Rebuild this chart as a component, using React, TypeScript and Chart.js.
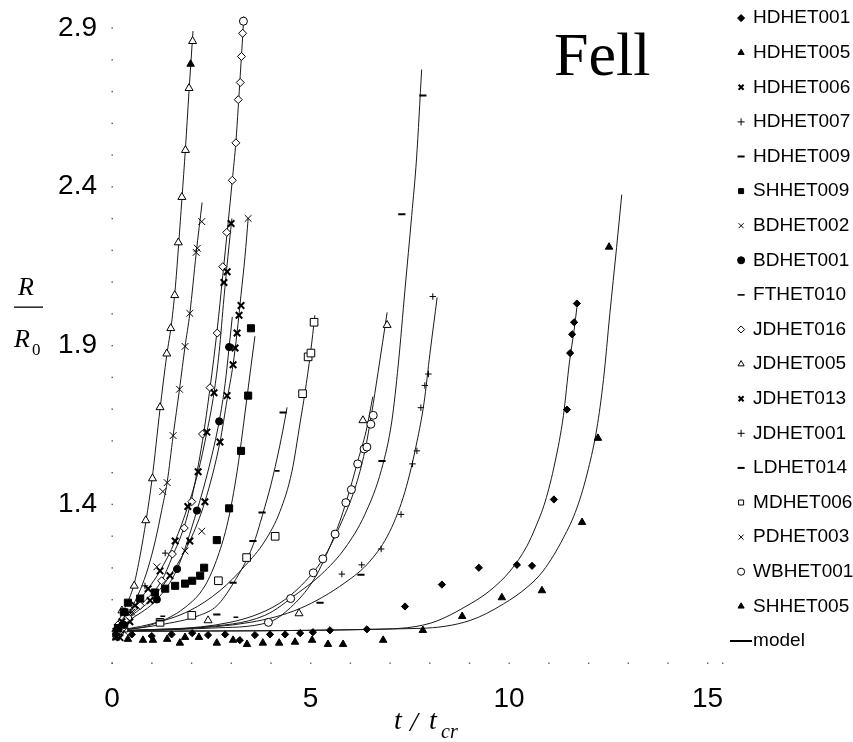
import React, { useEffect, useRef } from 'react';
import { Chart, registerables } from 'chart.js';

Chart.register(...registerables);

const SANS = "'Liberation Sans', Arial, sans-serif";
const SERIF = "'Liberation Serif', 'DejaVu Serif', serif";

// ---------- axes ----------
const xTickValues = [0, 5, 10, 15];
const yTickValues = [1.4, 1.9, 2.4, 2.9];
const xMin = 0;
const xMax = 15.39;
const yMin = 0.9;
const yMax = 2.967;

// ---------- measured series [t/tcr, R/R0] ----------
const hdhet001 = [[0.1, 0.99], [0.5, 0.99], [1.0, 0.985], [1.5, 0.99], [2.02, 0.994], [2.42, 0.988], [2.85, 0.99], [3.22, 0.972], [3.6, 0.988], [3.98, 0.99], [4.36, 0.99], [4.74, 0.994], [5.06, 0.997], [5.49, 1.003], [6.42, 1.006], [7.38, 1.078], [8.31, 1.147], [9.24, 1.2], [10.2, 1.209], [10.58, 1.206], [11.13, 1.415], [11.46, 1.698], [11.54, 1.876], [11.59, 1.935], [11.64, 1.973], [11.71, 2.032]];
const hdhet005 = [[3.8, 0.963], [4.21, 0.963], [4.61, 0.966], [5.04, 0.972], [5.44, 0.959], [5.82, 0.959], [6.83, 0.972], [7.83, 1.003], [8.82, 1.047], [9.82, 1.106], [10.83, 1.128], [11.84, 1.343], [12.24, 1.608], [12.52, 2.21]];
const hdhet006 = [[0.1, 1.0], [0.25, 1.03], [0.58, 1.081], [0.91, 1.134], [1.21, 1.19], [1.59, 1.284], [1.91, 1.393], [2.17, 1.502], [2.39, 1.627], [2.57, 1.751], [2.82, 2.098], [2.9, 2.132], [3.0, 2.284]];
const hdhet007 = [[0.2, 0.99], [0.4, 1.059], [0.83, 1.143], [1.34, 1.246]];
const hdhet009 = [[5.24, 1.09], [6.27, 1.178], [6.8, 1.536], [7.3, 2.313], [7.83, 2.687]];
const shhet009 = [[0.15, 1.01], [0.3, 1.06], [0.4, 1.09], [0.71, 1.103], [1.08, 1.122], [1.34, 1.134], [1.59, 1.143], [1.84, 1.15], [2.02, 1.159], [2.22, 1.175], [2.32, 1.2], [2.64, 1.287], [2.95, 1.387], [3.25, 1.568], [3.43, 1.742], [3.5, 1.954]];
const bdhet002 = [[0.1, 0.98], [0.3, 1.0], [0.45, 1.059], [1.13, 1.203], [1.84, 1.253], [2.26, 1.315], [3.43, 2.3]];
const bdhet001 = [[0.3, 1.02], [1.13, 1.1], [1.64, 1.196], [2.14, 1.38], [2.7, 1.661], [2.95, 1.895]];
const fthet010 = [[1.28, 1.047], [3.12, 1.044], [4.16, 1.505]];
const jdhet016 = [[0.08, 0.99], [0.15, 1.02], [0.33, 1.034], [0.71, 1.081], [1.25, 1.159], [1.52, 1.243], [1.82, 1.325], [2.01, 1.408], [2.28, 1.621], [2.47, 1.767], [2.65, 1.939], [2.79, 2.148], [2.89, 2.256], [3.03, 2.42], [3.12, 2.538], [3.18, 2.674], [3.23, 2.728], [3.26, 2.81], [3.29, 2.883]];
const jdhet005 = [[0.1, 0.99], [0.25, 1.065], [0.56, 1.143], [0.85, 1.349], [1.02, 1.481], [1.21, 1.705], [1.38, 1.874], [1.48, 1.954], [1.58, 2.058], [1.67, 2.224], [1.76, 2.367], [1.85, 2.515], [1.94, 2.71], [2.03, 2.858], [2.42, 1.034], [4.71, 1.056], [6.32, 1.664], [6.93, 1.964]];
const jdhet013 = [[0.2, 0.98], [0.45, 1.03], [0.96, 1.097], [1.46, 1.175], [1.96, 1.284], [2.34, 1.408], [2.72, 1.596], [2.9, 1.742], [3.05, 1.839], [3.1, 1.892], [3.15, 1.939], [3.2, 1.995], [3.25, 2.026]];
const jdhet001 = [[5.79, 1.18], [6.29, 1.209], [6.78, 1.259], [7.28, 1.368], [7.57, 1.527], [7.68, 1.568], [7.78, 1.704], [7.88, 1.774], [7.97, 1.81], [8.08, 2.054]];
const ldhet014 = [[1.21, 1.034], [2.64, 1.053], [3.05, 1.153], [3.55, 1.284], [3.78, 1.374], [4.31, 1.689]];
const mdhet006 = [[0.3, 1.01], [1.21, 1.028], [2.01, 1.05], [2.68, 1.159], [3.39, 1.232], [4.11, 1.299], [4.8, 1.748], [4.94, 1.864], [5.01, 1.876], [5.09, 1.973]];
const pdhet003 = [[0.15, 1.01], [0.5, 1.06], [1.28, 1.44], [1.39, 1.468], [1.54, 1.616], [1.7, 1.762], [1.84, 1.897], [1.96, 2.001], [2.12, 2.193], [2.15, 2.206], [2.26, 2.29]];
const wbhet001 = [[0.2, 1.0], [0.4, 1.04], [3.94, 1.028], [4.5, 1.103], [5.07, 1.184], [5.31, 1.228], [5.62, 1.306], [5.89, 1.405], [6.03, 1.446], [6.19, 1.527], [6.35, 1.574], [6.42, 1.58], [6.52, 1.652], [6.58, 1.68], [3.31, 2.921]];
const shhet005 = [[0.1, 0.98], [0.4, 0.975], [0.78, 0.972], [1.03, 0.972], [1.39, 0.975], [1.71, 0.963], [1.84, 0.981], [2.19, 0.981], [2.64, 0.963], [3.05, 0.972], [3.4, 0.959], [1.98, 2.786]];

// ---------- model curves [t/tcr, R/R0] ----------
const modelJDHET005 = [[0, 1], [0.15, 1.03], [0.33, 1.075], [0.55, 1.145], [0.71, 1.24], [0.86, 1.35], [1.01, 1.48], [1.21, 1.7], [1.38, 1.87], [1.5, 1.97], [1.6, 2.09], [1.68, 2.22], [1.76, 2.36], [1.85, 2.52], [1.94, 2.7], [2.04, 2.89]];
const modelPDHET003 = [[0, 1], [0.2, 1.025], [0.45, 1.065], [0.71, 1.13], [0.91, 1.2], [1.1, 1.29], [1.25, 1.38], [1.39, 1.47], [1.54, 1.616], [1.7, 1.762], [1.84, 1.897], [1.96, 2.0], [2.12, 2.19], [2.27, 2.35]];
const modelJDHET016 = [[0, 1], [0.33, 1.034], [0.71, 1.081], [1.25, 1.159], [1.52, 1.235], [1.82, 1.33], [2.01, 1.42], [2.28, 1.6], [2.47, 1.767], [2.65, 1.95], [2.79, 2.12], [2.92, 2.28], [3.03, 2.42], [3.12, 2.54], [3.18, 2.65], [3.23, 2.75], [3.28, 2.85], [3.32, 2.936]];
const modelHDHET006 = [[0, 1], [0.3, 1.04], [0.58, 1.081], [0.91, 1.134], [1.21, 1.19], [1.59, 1.284], [1.91, 1.393], [2.17, 1.502], [2.39, 1.627], [2.57, 1.751], [2.7, 1.88], [2.82, 2.05], [2.92, 2.18], [3.02, 2.3]];
const modelJDHET013 = [[0, 1], [0.5, 1.05], [0.96, 1.097], [1.46, 1.175], [1.96, 1.284], [2.34, 1.408], [2.72, 1.596], [2.9, 1.73], [3.05, 1.84], [3.15, 1.94], [3.25, 2.06], [3.35, 2.18], [3.43, 2.3]];
const modelBDHET001 = [[0, 1], [0.5, 1.04], [1.13, 1.1], [1.64, 1.196], [2.14, 1.38], [2.45, 1.52], [2.7, 1.661], [2.85, 1.78], [2.95, 1.895], [3.03, 1.99]];
const modelSHHET009 = [[0, 1], [0.96, 1.019], [1.84, 1.075], [2.34, 1.143], [2.67, 1.237], [2.92, 1.346], [3.15, 1.502], [3.32, 1.658], [3.48, 1.814], [3.6, 1.929]];
const modelLDHET014 = [[0, 1], [1.2, 1.02], [2.2, 1.05], [2.64, 1.08], [3.05, 1.15], [3.55, 1.27], [3.8, 1.37], [4.0, 1.46], [4.15, 1.54], [4.3, 1.63], [4.41, 1.705]];
const modelMDHET006 = [[0, 1], [0.96, 1.022], [1.96, 1.065], [2.72, 1.128], [3.35, 1.206], [3.85, 1.284], [4.23, 1.377], [4.53, 1.502], [4.74, 1.658], [4.86, 1.751], [5.0, 1.876], [5.11, 1.995]];
const modelWBHET001 = [[0, 1], [2.5, 1.01], [3.94, 1.028], [4.5, 1.075], [5.07, 1.16], [5.45, 1.255], [5.75, 1.35], [6.0, 1.45], [6.2, 1.54], [6.4, 1.63], [6.57, 1.739]];
const modelTriangleB = [[0, 1], [2.97, 1.028], [4.18, 1.085], [4.86, 1.156], [5.37, 1.239], [5.79, 1.346], [6.12, 1.45], [6.37, 1.568], [6.54, 1.686], [6.7, 1.814], [6.93, 2.004]];
const modelHDHET009 = [[0, 1], [2.22, 1.012], [3.85, 1.05], [4.69, 1.121], [5.28, 1.18], [5.87, 1.262], [6.37, 1.368], [6.79, 1.51], [7.05, 1.663], [7.21, 1.839], [7.38, 2.076], [7.55, 2.31], [7.67, 2.487], [7.8, 2.769]];
const modelJDHET001 = [[0, 1], [3.48, 1.028], [4.74, 1.072], [5.87, 1.153], [6.5, 1.221], [7.0, 1.315], [7.38, 1.44], [7.68, 1.596], [7.86, 1.72], [8.01, 1.876], [8.19, 2.051]];
const modelHDHET001 = [[0, 1], [6.5, 1.006], [8.01, 1.025], [9.02, 1.086], [9.52, 1.128], [10.03, 1.19], [10.45, 1.268], [10.66, 1.325], [10.91, 1.408], [11.16, 1.533], [11.37, 1.679], [11.52, 1.845], [11.64, 1.949], [11.71, 2.02]];
const modelHDHET005 = [[0, 1], [7.76, 1.009], [9.02, 1.034], [9.86, 1.086], [10.45, 1.138], [10.86, 1.19], [11.37, 1.294], [11.71, 1.388], [12.0, 1.512], [12.21, 1.637], [12.38, 1.793], [12.54, 2.0], [12.71, 2.209], [12.84, 2.375]];

type Marker = { pointStyle: string; r: number; bw: number; fill: boolean };
const DIAMOND_F: Marker = { pointStyle: 'rectRot', r: 3.6, bw: 1, fill: true };
const TRI_F: Marker = { pointStyle: 'triangle', r: 4.3, bw: 1, fill: true };
const BOLDX: Marker = { pointStyle: 'crossRot', r: 4.6, bw: 2, fill: false };
const THINX: Marker = { pointStyle: 'crossRot', r: 4.8, bw: 1, fill: false };
const PLUS: Marker = { pointStyle: 'cross', r: 3.2, bw: 1, fill: false };
const DASH: Marker = { pointStyle: 'line', r: 3.6, bw: 2, fill: false };
const SMALLDASH: Marker = { pointStyle: 'line', r: 2.4, bw: 1.6, fill: false };
const SQUARE_F: Marker = { pointStyle: 'rect', r: 5, bw: 1, fill: true };
const CIRCLE_F: Marker = { pointStyle: 'circle', r: 3.6, bw: 1, fill: true };
const DIAMOND_O: Marker = { pointStyle: 'rectRot', r: 4, bw: 1, fill: false };
const TRI_O: Marker = { pointStyle: 'triangle', r: 4.6, bw: 1, fill: false };
const SQUARE_O: Marker = { pointStyle: 'rect', r: 5.4, bw: 1, fill: false };
const CIRCLE_O: Marker = { pointStyle: 'circle', r: 4, bw: 1, fill: false };

const series: { label: string; data: number[][]; m: Marker }[] = [
  { label: 'HDHET001', data: hdhet001, m: DIAMOND_F },
  { label: 'HDHET005', data: hdhet005, m: TRI_F },
  { label: 'HDHET006', data: hdhet006, m: BOLDX },
  { label: 'HDHET007', data: hdhet007, m: PLUS },
  { label: 'HDHET009', data: hdhet009, m: DASH },
  { label: 'SHHET009', data: shhet009, m: SQUARE_F },
  { label: 'BDHET002', data: bdhet002, m: THINX },
  { label: 'BDHET001', data: bdhet001, m: CIRCLE_F },
  { label: 'FTHET010', data: fthet010, m: SMALLDASH },
  { label: 'JDHET016', data: jdhet016, m: DIAMOND_O },
  { label: 'JDHET005', data: jdhet005, m: TRI_O },
  { label: 'JDHET013', data: jdhet013, m: BOLDX },
  { label: 'JDHET001', data: jdhet001, m: PLUS },
  { label: 'LDHET014', data: ldhet014, m: DASH },
  { label: 'MDHET006', data: mdhet006, m: SQUARE_O },
  { label: 'PDHET003', data: pdhet003, m: THINX },
  { label: 'WBHET001', data: wbhet001, m: CIRCLE_O },
  { label: 'SHHET005', data: shhet005, m: TRI_F },
];

const modelCurves = [
  modelJDHET005, modelPDHET003, modelJDHET016, modelHDHET006, modelJDHET013, modelBDHET001,
  modelSHHET009, modelLDHET014, modelMDHET006, modelWBHET001, modelTriangleB, modelHDHET009,
  modelJDHET001, modelHDHET001, modelHDHET005,
];

const toPts = (a: number[][]) => a.map(([x, y]) => ({ x, y }));

const dotsPlugin = {
  id: 'axisDots',
  beforeDatasetsDraw(chart: any) {
    const { ctx, chartArea, scales } = chart;
    ctx.save();
    ctx.fillStyle = '#555';
    for (let k = 0; k <= 20; k++) {
      const v = yMin + k * 0.1;
      const py = scales.y.getPixelForValue(v);
      ctx.fillRect(chartArea.left - 0.5, py - 0.5, 1.4, 1.4);
    }
    for (let k = 0; k <= 15; k++) {
      const px = scales.x.getPixelForValue(k);
      ctx.fillRect(px - 0.5, chartArea.bottom - 0.5, 1.4, 1.4);
    }
    ctx.fillRect(chartArea.right - 1, chartArea.bottom - 0.5, 1.4, 1.4);
    ctx.restore();
  },
};

const textPlugin = {
  id: 'extraText',
  afterDraw(chart: any) {
    const { ctx } = chart;
    ctx.save();
    ctx.fillStyle = '#000';
    ctx.textBaseline = 'alphabetic';
    ctx.textAlign = 'left';
    // Fell
    ctx.font = `62px ${SERIF}`;
    ctx.fillText('Fell', 554, 75);
    // y-axis label R / R0
    ctx.font = `italic 26px ${SERIF}`;
    ctx.fillText('R', 18, 295);
    ctx.fillRect(14, 306.5, 29, 1.3);
    ctx.fillText('R', 14, 347);
    ctx.font = `17px ${SERIF}`;
    ctx.fillText('0', 32, 355);
    // x-axis label t / t_cr
    ctx.font = `italic 28px ${SERIF}`;
    ctx.fillText('t', 394, 729);
    ctx.fillText('/', 410, 731);
    ctx.fillText('t', 429, 729);
    ctx.font = `italic 20px ${SERIF}`;
    ctx.fillText('cr', 441, 738);
    ctx.restore();
  },
};

export default function App() {
  const ref = useRef<HTMLCanvasElement>(null);
  useEffect(() => {
    const canvas = ref.current;
    if (!canvas) return;
    const legendLine = document.createElement('canvas');
    legendLine.width = 22;
    legendLine.height = 2;
    const lctx = legendLine.getContext('2d')!;
    lctx.fillStyle = '#000';
    lctx.fillRect(0, 0, 22, 2);

    const markerSets = series.map((s) => ({
      label: s.label,
      data: toPts(s.data),
      showLine: false,
      pointStyle: s.m.pointStyle,
      pointRadius: s.m.r,
      pointHoverRadius: s.m.r,
      pointBorderWidth: s.m.bw,
      pointBackgroundColor: s.m.fill ? '#000' : '#fff',
      pointBorderColor: '#000',
    }));
    const modelSets = modelCurves.map((c) => ({
      label: 'model',
      data: toPts(c),
      showLine: true,
      borderColor: '#1a1a1a',
      borderWidth: 1,
      pointRadius: 0,
      pointHoverRadius: 0,
      pointStyle: legendLine,
      pointBackgroundColor: '#000',
      pointBorderColor: '#000',
      cubicInterpolationMode: 'monotone',
      fill: false,
    }));

    const tickFont = { family: SANS, size: 28 };
    const chart = new Chart(canvas, {
      type: 'scatter',
      data: { datasets: [...markerSets, ...modelSets] as any },
      options: {
        animation: false,
        responsive: true,
        maintainAspectRatio: false,
        events: [],
        layout: { padding: { top: -7, left: 0, right: 0, bottom: 0 } },
        plugins: {
          tooltip: { enabled: false },
          legend: {
            position: 'right',
            align: 'start',
            maxWidth: 130,
            labels: {
              usePointStyle: true,
              boxWidth: 5,
              boxHeight: 5,
              padding: 15.6,
              color: '#000',
              font: { family: SANS, size: 19 },
              filter: (item: any) => item.datasetIndex <= series.length,
            },
          },
        },
        scales: {
          x: {
            type: 'linear',
            min: xMin,
            max: xMax,
            afterBuildTicks: (scale: any) => {
              scale.ticks = xTickValues.map((v) => ({ value: v }));
            },
            afterFit: (scale: any) => {
              scale.height = 79;
              scale.paddingLeft = 0;
              scale.paddingRight = 0;
            },
            ticks: { font: tickFont, color: '#000', padding: 19, maxRotation: 0, autoSkip: false },
            grid: { display: false, drawTicks: false },
            border: { display: false },
          },
          y: {
            type: 'linear',
            min: yMin,
            max: yMax,
            afterBuildTicks: (scale: any) => {
              scale.ticks = yTickValues.map((v) => ({ value: v }));
            },
            afterFit: (scale: any) => {
              scale.width = 112;
              scale.paddingTop = 0;
              scale.paddingBottom = 0;
            },
            ticks: { font: tickFont, color: '#000', padding: 15, autoSkip: false, callback: (v: any) => Number(v).toFixed(1) },
            grid: { display: false, drawTicks: false },
            border: { display: false },
          },
        },
      } as any,
      plugins: [dotsPlugin, textPlugin],
    });
    return () => chart.destroy();
  }, []);

  return (
    <div style={{ position: 'absolute', left: 0, top: 0, width: 853, height: 742, background: '#fff' }}>
      <canvas ref={ref} />
    </div>
  );
}
